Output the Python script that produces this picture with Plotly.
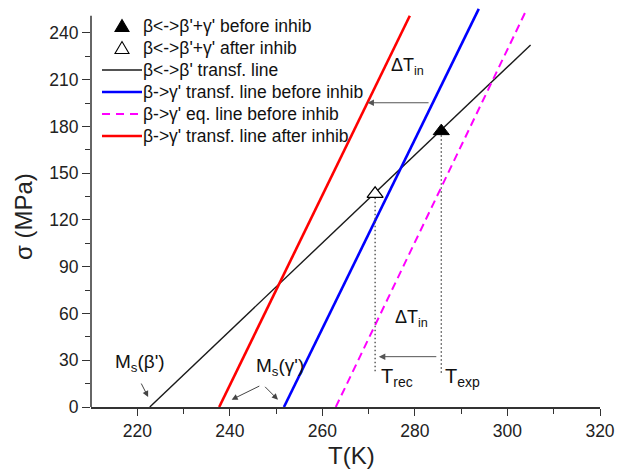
import plotly.graph_objects as go

# ---- data ----
T_beta_prime = [222.7, 305.0]          # beta <-> beta' transformation line
sigma_beta_prime = [0.0, 232.3]
T_gamma_before = [251.7, 293.8]        # beta -> gamma' transf. line before inhibition
sigma_gamma_before = [0.0, 255.4]
T_gamma_eq = [262.9, 304.2]            # beta -> gamma' equilibrium line before inhibition
sigma_gamma_eq = [0.0, 255.4]
T_gamma_after = [237.7, 278.9]         # beta -> gamma' transf. line after inhibition
sigma_gamma_after = [0.0, 251.0]
T_point_before = [285.7]               # beta <-> beta'+gamma' before inhib
sigma_point_before = [177.0]
T_point_after = [271.4]                # beta <-> beta'+gamma' after inhib
sigma_point_after = [136.8]

x_tick_vals = [220, 240, 260, 280, 300, 320]
x_minor_vals = [230, 250, 270, 290, 310]
y_tick_vals = [0, 30, 60, 90, 120, 150, 180, 210, 240]
y_minor_vals = [15, 45, 75, 105, 135, 165, 195, 225]

legend_names = ["β&lt;-&gt;β'+γ' before inhib",
                "β&lt;-&gt;β'+γ' after inhib",
                "β&lt;-&gt;β' transf. line",
                "β-&gt;γ' transf. line before inhib",
                "β-&gt;γ' eq. line before inhib",
                "β-&gt;γ' transf. line after inhib"]

dotted_bottom = 21.8       # lower end of the vertical dotted guides (MPa)
arrow_sigma_upper = 195.2  # stress level of the upper Delta T_in arrow
arrow_sigma_lower = 32.3   # stress level of the lower Delta T_in arrow

FONT = "Arial, Liberation Sans, sans-serif"
BLACK = "#1a1a1a"
BLUE = "#0000ff"
MAGENTA = "#ff00ff"
RED = "#ff0000"
AXIS = "#333"

# ---- page geometry ----
W, H = 622, 467
ML, MR, MT, MB = 83, 30, 0, 68
OFF = 8                      # browser body margin
PW, PH = W - ML - MR, H - MT - MB


def sx(p):  # page pixel x -> paper x
    return (p - OFF - ML) / PW


def sy(p):  # page pixel y -> paper y
    return (PH - (p - OFF - MT)) / PH


def T_at(Ts, sigmas, s):
    return Ts[0] + (s - sigmas[0]) * (Ts[1] - Ts[0]) / (sigmas[1] - sigmas[0])


fig = go.Figure()

fig.add_trace(go.Scatter(x=T_beta_prime, y=sigma_beta_prime, mode="lines",
                         name=legend_names[2], line=dict(color=BLACK, width=1.4)))
fig.add_trace(go.Scatter(x=T_gamma_before, y=sigma_gamma_before, mode="lines",
                         name=legend_names[3], line=dict(color=BLUE, width=2.6)))
fig.add_trace(go.Scatter(x=T_gamma_eq, y=sigma_gamma_eq, mode="lines",
                         name=legend_names[4], line=dict(color=MAGENTA, width=2, dash="8px,5px")))
fig.add_trace(go.Scatter(x=T_gamma_after, y=sigma_gamma_after, mode="lines",
                         name=legend_names[5], line=dict(color=RED, width=2.6)))

# vertical dotted guides
for Tv, sv in ((T_point_before[0], sigma_point_before[0]),
               (T_point_after[0], sigma_point_after[0])):
    fig.add_trace(go.Scatter(x=[Tv, Tv], y=[sv, dotted_bottom], mode="lines",
                             hoverinfo="skip",
                             line=dict(color="#444", width=1.3, dash="1.5px,2.5px")))

fig.add_trace(go.Scatter(x=T_point_before, y=sigma_point_before, mode="markers",
                         name=legend_names[0],
                         marker=dict(symbol="triangle-up", size=14, color="black",
                                     line=dict(color="black", width=1))))
fig.add_trace(go.Scatter(x=T_point_after, y=sigma_point_after, mode="markers",
                         name=legend_names[1],
                         marker=dict(symbol="triangle-up", size=14, color="white",
                                     line=dict(color="black", width=1.2))))

annotations = []
shapes = []


def arrow(xh, yh, xt, yt, color="#555", size=1.3):
    annotations.append(dict(x=xh, y=yh, ax=xt, ay=yt, xref="x", yref="y",
                            axref="x", ayref="y", text="", showarrow=True,
                            arrowhead=2, arrowsize=size, arrowwidth=1, arrowcolor=color))


# Delta T_in arrows
arrow(T_at(T_gamma_after, sigma_gamma_after, arrow_sigma_upper), arrow_sigma_upper,
      T_at(T_gamma_before, sigma_gamma_before, arrow_sigma_upper) - 0.6, arrow_sigma_upper)
arrow(T_point_after[0] + 0.8, arrow_sigma_lower, T_point_before[0] - 0.75, arrow_sigma_lower)
# Ms arrows
arrow(222.35, 6.4, 220.7, 16.0, "#444", 1.2)
arrow(240.4, 4.7, 246.7, 13.9, "#444", 1.2)
arrow(250.4, 4.7, 247.3, 13.9, "#444", 1.2)


def label(x, y, text, size, xanchor="center"):
    annotations.append(dict(x=x, y=y, xref="x", yref="y", text=text, showarrow=False,
                            xanchor=xanchor, yanchor="middle",
                            font=dict(family=FONT, size=size, color="#111")))


label(278.5, 218.5, "ΔT<sub>in</sub>", 18)
label(279.2, 56.8, "ΔT<sub>in</sub>", 18)
label(T_point_after[0] + 0.8, 19.2, "T<sub>rec</sub>", 20, "left")
label(T_point_before[0] + 0.4, 19.2, "T<sub>exp</sub>", 20, "left")
label(220.5, 28.2, "M<sub>s</sub>(β')", 19)
label(250.8, 25.7, "M<sub>s</sub>(γ')", 19)

# axis titles
annotations.append(dict(x=sx(351), y=sy(455), xref="paper", yref="paper", text="T(K)",
                        showarrow=False, xanchor="center", yanchor="middle",
                        font=dict(family=FONT, size=24, color="#222")))
annotations.append(dict(x=sx(23), y=sy(217), xref="paper", yref="paper", text="σ (MPa)",
                        showarrow=False, xanchor="center", yanchor="middle", textangle=-90,
                        font=dict(family=FONT, size=24, color="#222")))

# ---- legend (drawn manually to match the reference spacing) ----
rows = [26, 48, 70, 92, 114, 136]
for i, name in enumerate(legend_names):
    annotations.append(dict(x=sx(141), y=sy(rows[i]), xref="paper", yref="paper",
                            text=name, showarrow=False, xanchor="left", yanchor="middle",
                            font=dict(family=FONT, size=17.5, color="#111")))
for i, fill in ((0, "black"), (1, "white")):
    yc = rows[i]
    shapes.append(dict(type="path", xref="paper", yref="paper",
                       path=f"M {sx(115)},{sy(yc + 5.5)} L {sx(129)},{sy(yc + 5.5)} "
                            f"L {sx(122)},{sy(yc - 6.5)} Z",
                       fillcolor=fill, line=dict(color="black", width=1.1)))
for i, (col, wid, dash) in ((2, (BLACK, 1.4, "solid")), (3, (BLUE, 2.6, "solid")),
                            (4, (MAGENTA, 2, "8px,6px")), (5, (RED, 2.6, "solid"))):
    shapes.append(dict(type="line", xref="paper", yref="paper",
                       x0=sx(102), x1=sx(142), y0=sy(rows[i]), y1=sy(rows[i]),
                       line=dict(color=col, width=wid, dash=dash)))

# y axis line (ends at the top of the frame, lines may run slightly above it)
shapes.append(dict(type="line", xref="paper", yref="y", x0=0, x1=0, y0=0, y1=251,
                   line=dict(color=AXIS, width=1.5), layer="above"))

fig.update_layout(
    width=W, height=H,
    margin=dict(l=ML, r=MR, t=MT, b=MB),
    paper_bgcolor="white", plot_bgcolor="white",
    font=dict(family=FONT, size=17, color="#222"),
    showlegend=False,
    annotations=annotations,
    shapes=shapes,
    xaxis=dict(range=[210, 320], showgrid=False, zeroline=False,
               showline=True, linecolor=AXIS, linewidth=1.5,
               tickmode="array", tickvals=x_tick_vals,
               ticks="outside", ticklen=7, tickwidth=1.2, tickcolor=AXIS,
               minor=dict(tickvals=x_minor_vals, ticks="outside",
                          ticklen=5, tickwidth=1.2, tickcolor=AXIS),
               tickfont=dict(family=FONT, size=17.5, color="#222")),
    yaxis=dict(range=[0, 256], showgrid=False, zeroline=False, showline=False,
               tickmode="array", tickvals=y_tick_vals,
               ticks="outside", ticklen=8, tickwidth=1.2, tickcolor=AXIS,
               minor=dict(tickvals=y_minor_vals, ticks="outside",
                          ticklen=5, tickwidth=1.2, tickcolor=AXIS),
               tickfont=dict(family=FONT, size=17.5, color="#222")),
)

fig.write_html("out.html")
